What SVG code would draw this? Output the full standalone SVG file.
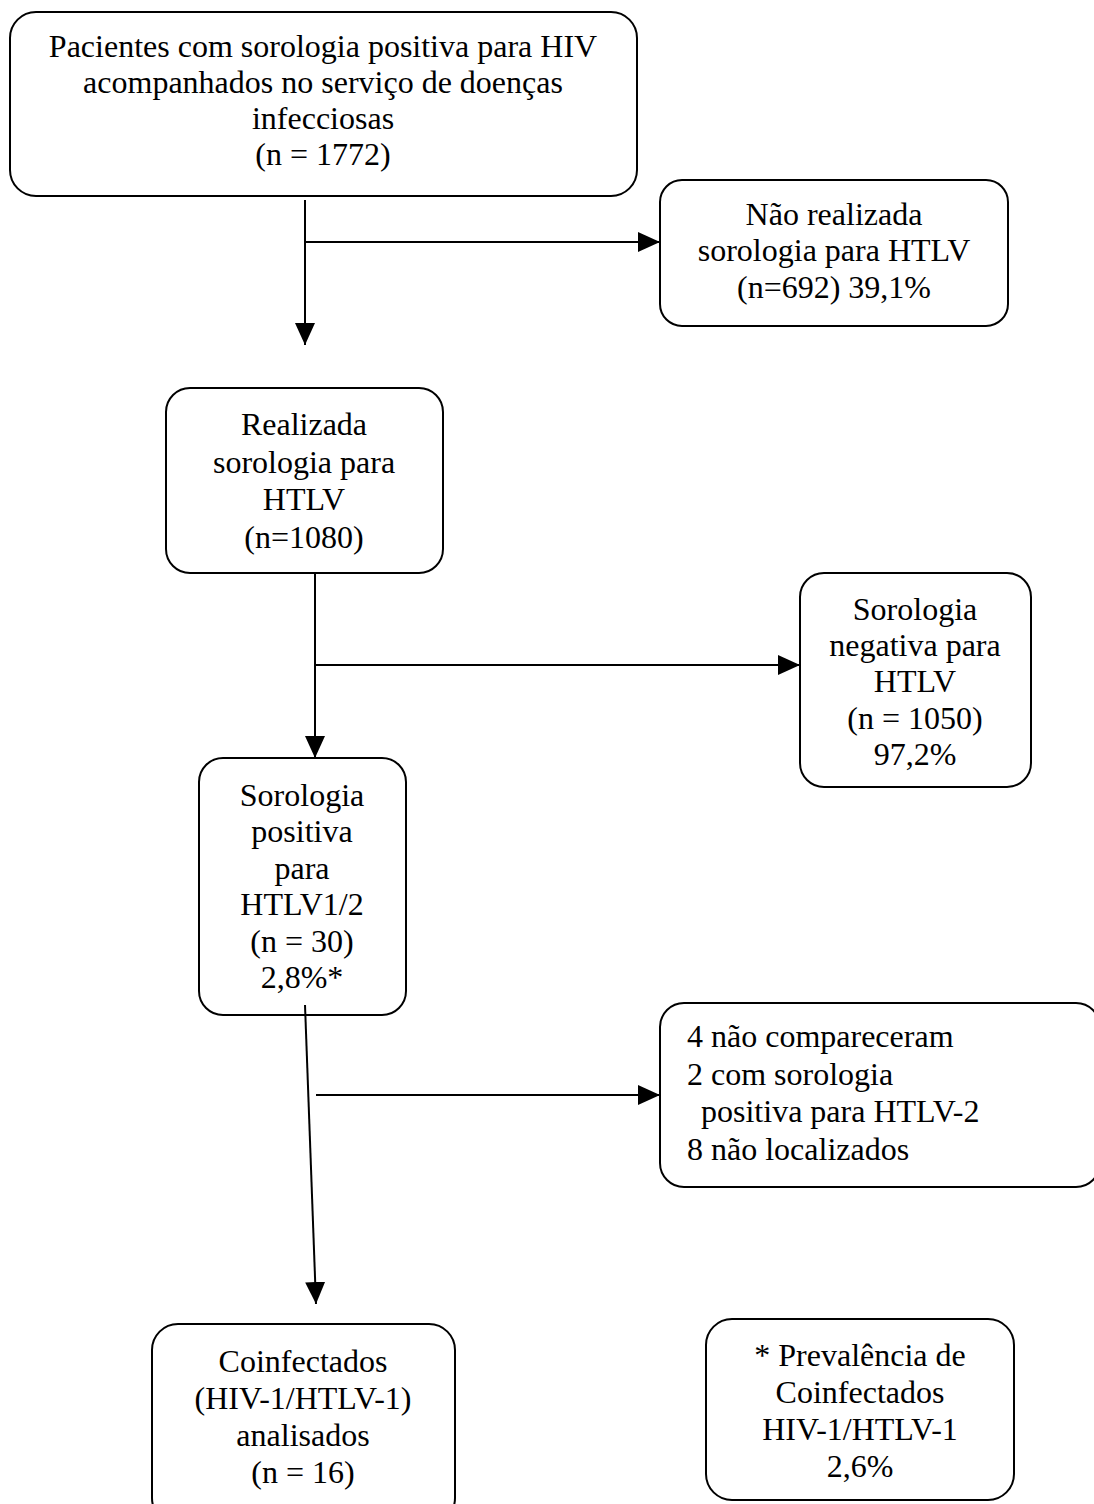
<svg xmlns="http://www.w3.org/2000/svg" width="1094" height="1504" viewBox="0 0 1094 1504">
<defs>
<marker id="ah" viewBox="0 0 22 20" refX="22" refY="10" markerWidth="22" markerHeight="20" markerUnits="userSpaceOnUse" orient="auto">
<path d="M0,0 L22,10 L0,20 Z" fill="#000"/>
</marker>
<style>
.box{fill:#fff;stroke:#000;stroke-width:2}
.t{font-family:"Liberation Serif","Times New Roman",serif;font-size:32px;fill:#000;text-anchor:middle}
.l{text-anchor:start}
.c{fill:none;stroke:#000;stroke-width:2}
</style>
</defs>
<rect width="1094" height="1504" fill="#fff"/>
<g id="n1">
<rect class="box" x="10" y="12" width="627" height="184" rx="26"/>
<text class="t" x="323" y="57">Pacientes com sorologia positiva para HIV</text>
<text class="t" x="323" y="93">acompanhados no serviço de doenças</text>
<text class="t" x="323" y="129">infecciosas</text>
<text class="t" x="323" y="165">(n = 1772)</text>
</g>
<g id="n2">
<rect class="box" x="660" y="180" width="348" height="146" rx="22"/>
<text class="t" x="834" y="225">Não realizada</text>
<text class="t" x="834" y="261">sorologia para HTLV</text>
<text class="t" x="834" y="298">(n=692) 39,1%</text>
</g>
<g id="n3">
<rect class="box" x="166" y="388" width="277" height="185" rx="24"/>
<text class="t" x="304" y="435">Realizada</text>
<text class="t" x="304" y="473">sorologia para</text>
<text class="t" x="304" y="510">HTLV</text>
<text class="t" x="304" y="548">(n=1080)</text>
</g>
<g id="n4">
<rect class="box" x="800" y="573" width="231" height="214" rx="24"/>
<text class="t" x="915" y="620">Sorologia</text>
<text class="t" x="915" y="656">negativa para</text>
<text class="t" x="915" y="692">HTLV</text>
<text class="t" x="915" y="729">(n = 1050)</text>
<text class="t" x="915" y="765">97,2%</text>
</g>
<g id="n5">
<rect class="box" x="199" y="758" width="207" height="257" rx="24"/>
<text class="t" x="302" y="806">Sorologia</text>
<text class="t" x="302" y="842">positiva</text>
<text class="t" x="302" y="879">para</text>
<text class="t" x="302" y="915">HTLV1/2</text>
<text class="t" x="302" y="952">(n = 30)</text>
<text class="t" x="302" y="988">2,8%*</text>
</g>
<g id="n6">
<rect class="box" x="660" y="1003" width="440" height="184" rx="24"/>
<text class="t l" x="687" y="1047">4 não compareceram</text>
<text class="t l" x="687" y="1085">2 com sorologia</text>
<text class="t l" x="701" y="1122">positiva para HTLV-2</text>
<text class="t l" x="687" y="1160">8 não localizados</text>
</g>
<g id="n7">
<rect class="box" x="152" y="1324" width="303" height="200" rx="26"/>
<text class="t" x="303" y="1372">Coinfectados</text>
<text class="t" x="303" y="1409">(HIV-1/HTLV-1)</text>
<text class="t" x="303" y="1446">analisados</text>
<text class="t" x="303" y="1483">(n = 16)</text>
</g>
<g id="n8">
<rect class="box" x="706" y="1319" width="308" height="181" rx="26"/>
<text class="t" x="860" y="1366">* Prevalência de</text>
<text class="t" x="860" y="1403">Coinfectados</text>
<text class="t" x="860" y="1440">HIV-1/HTLV-1</text>
<text class="t" x="860" y="1477">2,6%</text>
</g>
<g id="connectors">
<line class="c" x1="305" y1="200" x2="305" y2="345" marker-end="url(#ah)"/>
<line class="c" x1="305" y1="242" x2="660" y2="242" marker-end="url(#ah)"/>
<line class="c" x1="315" y1="573" x2="315" y2="758" marker-end="url(#ah)"/>
<line class="c" x1="315" y1="665" x2="800" y2="665" marker-end="url(#ah)"/>
<line class="c" x1="305" y1="1005" x2="316" y2="1304" marker-end="url(#ah)"/>
<line class="c" x1="316" y1="1095" x2="660" y2="1095" marker-end="url(#ah)"/>
</g>
</svg>
